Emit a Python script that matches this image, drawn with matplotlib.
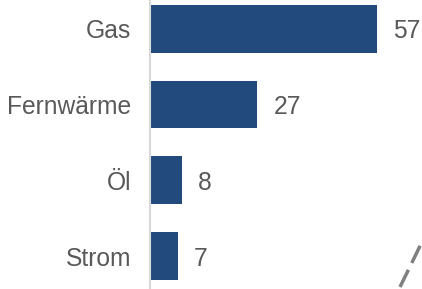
import matplotlib
matplotlib.use("Agg")
import matplotlib.pyplot as plt
from matplotlib.lines import Line2D

categories = ["Gas", "Fernwärme", "Öl", "Strom"]
values = [57, 27, 8, 7]

plt.rcParams['font.family'] = ['Liberation Sans', 'DejaVu Sans']

fig = plt.figure(figsize=(4.22, 2.89), dpi=100)
W, H = 422, 289
ax = fig.add_axes([150/W, 0, (420-150)/W, 1])
pos = list(range(len(categories)))
ax.barh(pos, values, height=0.63, color="#224a7c", left=0)
ax.set_xlim(0, (420-151)/3.965)
ax.set_ylim(3.436, -0.383)
ax.set_yticks(pos)
ax.set_yticklabels(categories, fontsize=17.7, color="#595959")
ax.tick_params(axis='y', length=0, pad=13.5)
ax.set_xticks([])
for s in ["top", "right", "bottom"]:
    ax.spines[s].set_visible(False)
ax.spines["left"].set_color("#d9d9d9")
ax.spines["left"].set_linewidth(1.5)
for p, v in zip(pos, values):
    ax.annotate(str(v), (v, p), xytext=(11.5, 0), textcoords="offset points",
                va="center_baseline", ha="left", fontsize=17.7, color="#595959")

fig.add_artist(Line2D([400/W, 421/W], [1-287/H, 1-244/H], transform=fig.transFigure,
                      color="#808080", lw=2.5, linestyle=(0, (5.5, 2.2))))
fig.savefig("out.png", dpi=100)
